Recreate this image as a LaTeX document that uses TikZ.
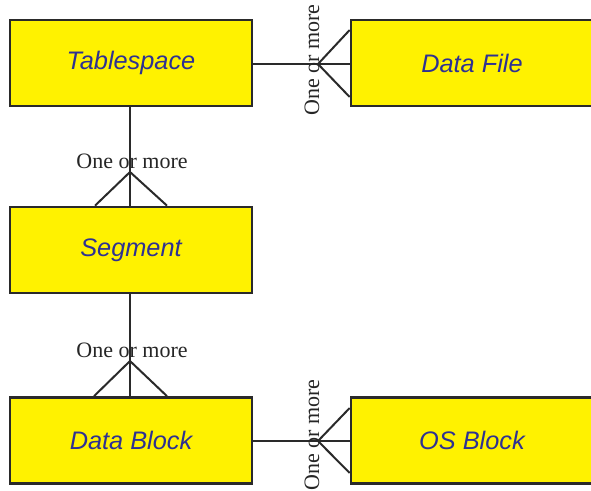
\documentclass[tikz,border=0pt]{standalone}
\usepackage{fontspec}
\setmainfont{Liberation Serif}
\newfontfamily\boxfont{Liberation Sans}
\definecolor{boxyellow}{HTML}{FFF200}
\definecolor{boxtext}{HTML}{2E3192}
\definecolor{boxline}{HTML}{2A2A2A}
\begin{document}
\begin{tikzpicture}[x=0.75pt,y=-0.75pt,
  entity/.style={draw=boxline,line width=2pt,fill=boxyellow,minimum width=242*0.75pt,minimum height=86*0.75pt,inner sep=0pt,
     font=\boxfont\itshape\fontsize{19}{21}\selectfont,text=boxtext},
  link/.style={draw=boxline,line width=1.5pt},
  card/.style={font=\fontsize{16.5}{18}\selectfont,text=black!85,inner sep=0pt}]
\useasboundingbox (0,0) rectangle (591,490);
\node[entity] (ts) at (131,63) {Tablespace};
\node[entity] (df) at (472,63) {Data File};
\node[entity] (sg) at (131,250) {Segment};
\node[entity] (db) at (131,440.5) {Data Block};
\node[entity] (os) at (472,440.5) {OS Block};
% Tablespace - Data File
\coordinate (a1) at (318,64);
\draw[link] (ts.east |- a1) -- (df.west |- a1);
\draw[link] (df.west |- 0,30) -- (a1) -- (df.west |- 0,97);
\node[card,rotate=90] (l1) at (312,60) {One or more};
% Tablespace - Segment
\coordinate (a2) at (130,172);
\draw[link] (ts.south -| a2) -- (sg.north -| a2);
\draw[link] (sg.north -| 95,0) -- (a2) -- (sg.north -| 167,0);
\node[card] (l2) at (132,161) {One or more};
% Segment - Data Block
\coordinate (a3) at (130,361);
\draw[link] (sg.south -| a3) -- (db.north -| a3);
\draw[link] (db.north -| 94,0) -- (a3) -- (db.north -| 167,0);
\node[card] (l3) at (132,350) {One or more};
% Data Block - OS Block
\coordinate (a4) at (318,441);
\draw[link] (db.east |- a4) -- (os.west |- a4);
\draw[link] (os.west |- 0,408) -- (a4) -- (os.west |- 0,473);
\node[card,rotate=90] (l4) at (312,435) {One or more};
\end{tikzpicture}
\end{document}
